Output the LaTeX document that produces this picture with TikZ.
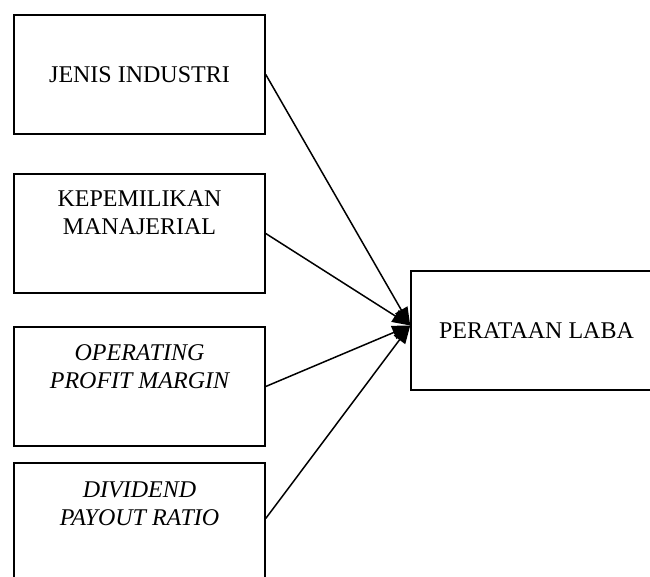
\documentclass[tikz,border=0pt]{standalone}
\usepackage{fontspec}
\setmainfont{Liberation Serif}
\usetikzlibrary{arrows.meta,positioning,calc}

\begin{document}
\begin{tikzpicture}[
    x=0.5pt, y=-0.5pt,
    box/.style={rectangle, draw, line width=0.75pt, minimum width=125.5pt, minimum height=59.5pt, inner sep=0pt},
    label/.style={inner sep=0pt, align=center, font=\fontsize{12}{14}\selectfont},
    arrow/.style={-{Triangle[length=9pt,width=7pt]}, line width=0.75pt}
]
\useasboundingbox (0,0) rectangle (650,577);

\node[box, label] (jenis) at (139.5,74.5) {JENIS INDUSTRI};
\node[box] (milik) at (139.5,233.5) {};
\node[box] (opm) at (139.5,386.5) {};
\node[box] (dpr) at (139.5,522.5) {};
\node[box, label] (laba) at (536.5,330.5) {PERATAAN LABA};

\node[label, below=8.5pt of milik.north] (milikt) {KEPEMILIKAN\\MANAJERIAL};
\node[label, below=9pt of opm.north] (opmt) {\itshape OPERATING\\\itshape PROFIT MARGIN};
\node[label, below=9.5pt of dpr.north] (dprt) {\itshape DIVIDEND\\\itshape PAYOUT RATIO};

\coordinate (hit) at ($(laba.west)+(0,-5)$);

\draw[arrow] (jenis.east) -- (hit);
\draw[arrow] (milik.east) -- (hit);
\draw[arrow] (opm.east) -- (hit);
\draw[arrow] ($(dpr.east)+(0,-4)$) -- (hit);
\end{tikzpicture}
\end{document}
